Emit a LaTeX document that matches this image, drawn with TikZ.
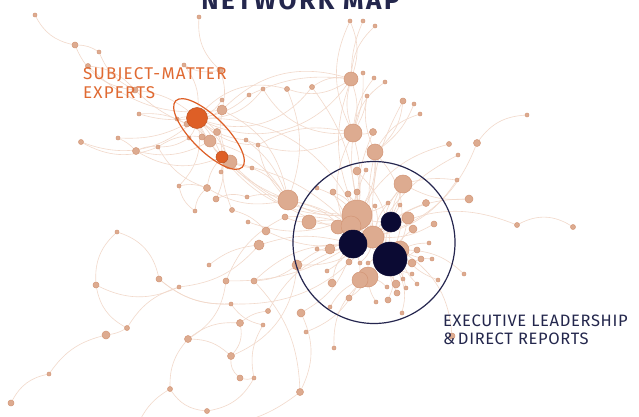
\documentclass[tikz,border=0pt]{standalone}
\usepackage{fontspec}
\newfontfamily\titlefont[LetterSpace=10]{Fira Sans}
\newfontfamily\smefont[LetterSpace=7]{Fira Sans}
\newfontfamily\exfont[LetterSpace=4]{Fira Sans}
\pgfdeclarelayer{bg}
\pgfsetlayers{bg,main}
\definecolor{edgec}{HTML}{F2D9CB}
\definecolor{tanfill}{HTML}{DDAB90}
\definecolor{tanline}{HTML}{D39677}
\definecolor{orng}{HTML}{DE5F26}
\definecolor{navy}{HTML}{0B0A33}
\definecolor{navyline}{HTML}{25264F}
\definecolor{titlec}{HTML}{24274D}
\definecolor{orangetext}{HTML}{E06A32}
\tikzset{
  dot/.style={circle, inner sep=0pt, outer sep=0pt, fill=tanfill, draw=tanline, line width=0.5pt},
  odot/.style={circle, inner sep=0pt, outer sep=0pt, fill=orng, draw=orng!85!black, line width=0.5pt},
  ndot/.style={circle, inner sep=0pt, outer sep=0pt, fill=navy, draw=navy, line width=0.5pt},
  edge/.style={draw=edgec, line width=0.6pt},
  grouplabel/.style={anchor=base west, inner sep=0pt},
}
\begin{document}
\begin{tikzpicture}[x=1pt,y=-1pt]
\useasboundingbox (0,0) rectangle (639,417);
% tan nodes
\foreach \n/\x/\y/\r in {
1/35/15/2, 2/75/45/3, 3/99/52/2, 4/88/66/2.5, 5/184/65/2, 6/135/90/3, 7/139/114/2,
8/81/142/2.5, 9/118/138/2, 10/136/151/3.5, 11/158/147/2, 12/177/119/2, 13/187/124/3,
14/189/138/2, 15/222/100/2, 16/222/110/5, 17/217/132/3.5, 18/210/141/6, 19/202/137/3,
20/230/162/7, 21/220/70/3, 22/199/17/2,
23/249/95/2, 24/263/89/2, 25/287/89/2.5, 26/312/87/2.5, 27/246/140/2, 28/258/145/2,
29/252/168/2, 30/221/172/2, 31/207/188/3.5, 32/216/199/3, 33/195/211/2, 34/232/210/2.5,
35/247/197/2, 36/179/186/2, 37/288/200/10, 38/285/217/3, 39/248/222/2, 40/266/231/4,
41/259/245/5, 42/317/188/2, 43/333/192/3,
44/350/21/2, 45/363/21/2, 46/375/26/2, 47/351/79/7, 48/363/73/2, 49/374/78/2, 50/385/82/2,
51/367/96/2, 52/403/101/3, 53/414/104/2, 54/420/114/2, 55/353/133/9, 56/373/132/3.5,
57/375/152/8,
58/449/144/2.5, 59/477/143/3.5, 60/527/115/2, 61/458/155/2, 62/457/180/2, 63/469/199/4,
64/517/225/2.5, 65/573/227/2.5, 66/464/274/2, 67/438/280/2, 68/426/203/3.5, 69/434/224/3,
70/357/171/4, 71/366/170/2, 72/403/184/9, 73/309/222/7, 74/348/194/3, 75/357/192/3,
76/357/215/15, 77/375/206/2, 78/388/203/2, 79/400/205/2, 80/408/218/6, 81/338/227/7,
82/351/226/10, 83/413/229/4, 84/373/237/11, 85/330/249/5, 86/317/249/2, 87/400/250/9,
88/417/250/3, 89/429/243/2, 90/421/259/3, 91/432/259/2, 92/412/263/4, 93/349/262/3,
94/360/263/2, 95/368/263/2, 96/327/271/2, 97/368/277/10, 98/360/280/8, 99/332/283/4,
100/349/298/3, 101/412/274/2, 102/403/279/2, 103/396/284/4, 104/406/288/2, 105/417/284/2,
106/387/287/2, 107/397/293/3, 108/388/300/3, 109/376/302/2, 110/402/313/2, 111/330/307/2,
112/301/313/4, 113/297/265/5, 114/452/336/3,
115/306/332/2, 116/334/348/2, 117/300/392/3.5, 118/268/311/2.5, 119/263/325/2,
120/240/323/3.5, 121/231/304/2, 122/188/339/3.5, 123/231/356/3.5, 124/240/378/3,
125/254/378/2, 126/170/389/2.5, 127/207/411/2.5, 128/179/287/2, 129/226/281/3,
130/254/281/3, 131/117/232/2, 132/159/279/3, 133/96/285/3, 134/209/265/2, 135/127/328/2.5,
136/106/335/4, 137/49/374/2, 138/11/403/3}
  \node[dot, minimum size=2*\r pt] (n\n) at (\x,\y) {};
% orange nodes
\node[odot, minimum size=21pt] (nO1) at (197,118) {};
\node[odot, minimum size=12pt] (nO2) at (222,157) {};
% navy nodes
\node[ndot, minimum size=20pt] (nD3) at (391,222) {};
\node[ndot, minimum size=28pt] (nD1) at (353,244) {};
\node[ndot, minimum size=34pt] (nD2) at (390,259) {};
\coordinate (nc1) at (140,420);
\coordinate (nc2) at (180,420);
\begin{pgfonlayer}{bg}
\fill[white] (0,0) rectangle (639,417);
\foreach \a/\b/\c in {
1/2/-25, 2/3/15, 2/6/-30, 3/6/-20, 4/6/20, 4/16/-25, 6/O1/15, 6/13/-10, 5/O1/20, 5/21/-20,
22/21/-25, 21/16/15, 7/O1/-10, 7/13/15, 8/11/-25, 8/O1/-30, 9/10/10, 9/O1/-15, 10/11/15,
10/18/-20, 11/19/20, 11/14/-15, 12/O1/10, 13/O1/5, 14/O1/-10, 15/O1/15, 16/O1/10, 17/O1/-10,
18/O1/10, 19/O1/-5, 17/O2/10, 18/O2/-10, 20/O2/5, O1/O2/8, O1/O2/-8, O1/20/12, 16/20/-15,
13/18/10, O1/27/-15, O1/28/-20, 23/O1/15, 24/O1/25, 25/O1/-30, 26/O1/35, 47/O1/40, 47/16/-30,
26/47/20, 25/47/-25, 27/37/15, 28/37/-15, 29/O2/10, 30/O2/-10, 31/O2/15, 31/33/-20, 32/O2/-15,
32/35/20, 34/O2/10, 35/37/15, 36/O1/-25, 36/31/15, O2/37/-10, O2/76/-25, O1/76/30, 20/76/-20,
20/82/15, O2/84/-15, 18/37/20, 27/55/-25, 28/55/20, 29/37/15, 24/55/-30, 16/37/25,
44/47/20, 45/47/-10, 46/47/-20, 47/55/15, 47/55/-15, 48/55/10, 49/55/-15, 50/55/-20, 51/55/10,
51/57/-15, 52/57/20, 53/57/15, 54/57/-20, 55/76/10, 55/84/-15, 56/55/10, 56/76/-10, 57/76/15,
57/84/-10, 57/82/20, 47/76/-20, 26/76/15, 25/37/20, 52/84/-15, 44/55/-25,
58/76/-20, 59/84/25, 60/59/-25, 61/84/-15, 62/84/20, 62/72/-10, 63/84/-20, 63/72/15, 64/84/-25,
64/65/30, 68/84/-10, 69/84/15, 66/87/-20, 67/87/15, 114/87/-25,
70/76/10, 71/76/-10, 72/84/15, 72/D3/-10, 73/76/-15, 73/84/20, 74/76/10, 75/76/-10, 77/84/15,
78/84/-10, 79/84/10, 80/84/-15, 80/D2/10, 81/76/10, 81/D1/-10, 82/D2/15, 83/D2/-10, 85/D1/10,
86/D1/-15, 88/D2/10, 89/87/-10, 90/D2/15, 91/87/10, 92/D2/-10, 93/D1/10, 94/84/-15, 95/D2/10,
96/D1/-10, 97/D2/15, 98/D1/-10, 99/D1/15, 100/97/-10, 101/D2/10, 102/D2/-15, 103/D2/10,
104/D2/-10, 105/87/15, 106/97/-10, 107/D2/10, 108/D2/-15, 109/97/10, 110/D2/-20, 111/98/15,
112/D1/-20, 113/D1/15, 113/84/-20, D1/D2/10, D1/D3/-10, D2/D3/15, 76/D3/-10, 76/D2/15,
84/D1/-10, 82/D1/10, 37/76/-15, 37/D1/20, 37/82/10, 38/73/-10, 38/84/15, 40/84/-20, 41/D1/15,
39/76/-20, 42/76/10, 43/84/-15, 43/76/15, 72/76/20, 72/D2/-25, 57/D2/30, 55/D1/-25, 70/D2/20,
115/98/-20, 116/97/25, 117/112/-25, 118/D1/20, 118/120/-15, 119/121/20, 120/122/-20,
121/84/-25, 121/132/20, 122/129/-25, 122/123/20, 122/126/-20, 123/120/-25, 124/125/-15,
125/119/20, 124/123/25, 126/127/-25, 127/125/-25, 128/41/-20, 128/133/25, 129/D1/-15,
130/D1/20, 130/113/-15, 131/133/-25, 131/132/30, 132/121/-20, 133/135/-25, 135/136/10,
136/137/-20, 137/138/-25, 134/41/15, 135/128/20, 126/c1/-15, 117/c2/25, 117/130/-20,
123/113/-30, 129/38/20, 34/40/15, 31/37/-20, 11/31/-20, 10/O2/-25, 36/33/-20, 23/47/15}
  \path[edge] (n\a) to[bend left=\c] (n\b);
\end{pgfonlayer}
% group outlines
\draw[orng, line width=1.2pt, rotate around={-45:(209,134)}] (209,134) ellipse [x radius=47, y radius=17];
\draw[navyline, line width=1.2pt] (374,242.5) circle [radius=81];
% texts
\node[anchor=base, inner sep=0pt, text=titlec, font=\titlefont\bfseries\fontsize{26}{28}\selectfont] (title) at (300.5,10) {NETWORK MAP};
\node[grouplabel, text=orangetext, font=\smefont\fontsize{17}{19}\selectfont] (sme1) at (83,80) {SUBJECT-MATTER};
\node[grouplabel, text=orangetext, font=\smefont\fontsize{17}{19}\selectfont] (sme2) at (83,98.5) {EXPERTS};
\node[grouplabel, text=titlec, font=\exfont\fontsize{16.5}{18}\selectfont] (ex1) at (443,326) {EXECUTIVE LEADERSHIP};
\node[grouplabel, text=titlec, font=\exfont\fontsize{16.5}{18}\selectfont] (ex2) at (443,344.5) {\&\,DIRECT REPORTS};
\end{tikzpicture}
\end{document}
